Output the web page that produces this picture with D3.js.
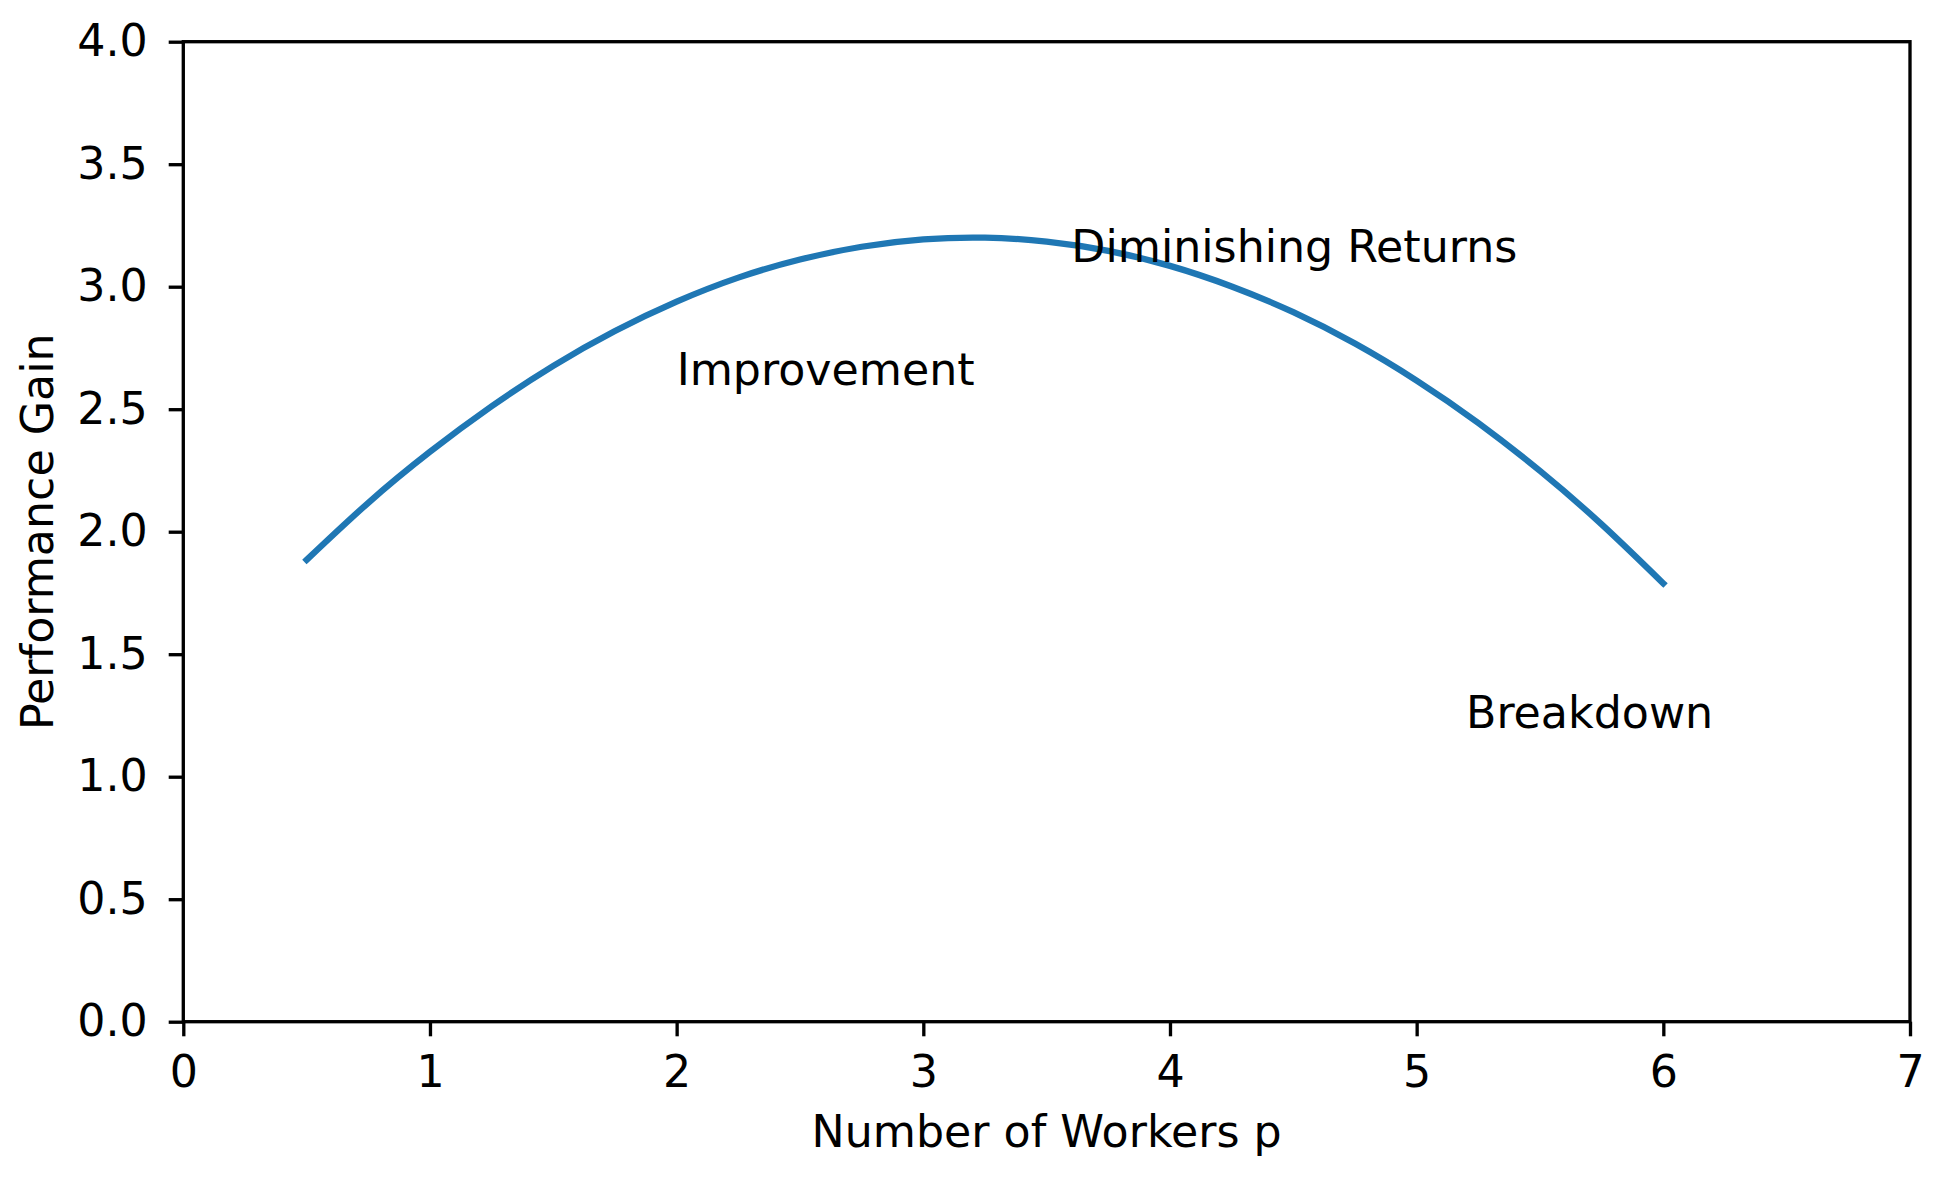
<!DOCTYPE html>
<html>
<head>
<meta charset="utf-8">
<script src="https://cdn.jsdelivr.net/npm/d3@7"></script>
<style>
    body { margin: 0; background: #fff; }
    svg text { font-family: "DejaVu Sans", sans-serif; }
</style>
</head>
<body>
<div id="chart"></div>
<script>
// Values
const workers = [0.5, 0.75, 1.0, 1.25, 1.5, 1.75, 2.0, 2.25, 2.5, 2.75, 3.0, 3.25,
                 3.5, 3.75, 4.0, 4.25, 4.5, 4.75, 5.0, 5.25, 5.5, 5.75, 6.0];
const gain = [1.885, 2.118, 2.326, 2.512, 2.677, 2.819, 2.939, 3.037, 3.111, 3.163, 3.193, 3.2,
              3.184, 3.146, 3.085, 3.001, 2.896, 2.768, 2.617, 2.444, 2.248, 2.03, 1.789];

const xTicks = [0, 1, 2, 3, 4, 5, 6, 7];
const yTicks = [0, 0.5, 1.0, 1.5, 2.0, 2.5, 3.0, 3.5, 4.0];

// Region labels (x, y in data units)
const labelText = ["Improvement", "Diminishing Returns", "Breakdown"];
const labelX = [2, 3.6, 5.2];
const labelY = [2.6, 3.1, 1.2];

const data = workers.map((w, i) => ({ p: w, g: gain[i] }));

// Dimensions and margins
const margin = { top: 41.7, right: 35, bottom: 164.3, left: 183.3 },
      width = 1945 - margin.left - margin.right,
      height = 1186 - margin.top - margin.bottom;

const fontSize = 44.3;
const tickLen = 14.6;
const spineW = 3.33;

const svg = d3.select("#chart")
    .append("svg")
    .attr("width", width + margin.left + margin.right)
    .attr("height", height + margin.top + margin.bottom)
    .append("g")
    .attr("transform", `translate(${margin.left},${margin.top})`);

// Scales
const x = d3.scaleLinear().domain([0, 7]).range([0, width]);
const y = d3.scaleLinear().domain([0, 4]).range([height, 0]);

// x-axis
const xAxis = svg.append("g")
    .attr("transform", `translate(0,${height})`)
    .call(d3.axisBottom(x).tickValues(xTicks).tickFormat(d3.format("d"))
        .tickSize(tickLen).tickPadding(19).tickSizeOuter(0));

// y-axis
const yAxis = svg.append("g")
    .call(d3.axisLeft(y).tickValues(yTicks).tickFormat(d3.format(".1f"))
        .tickSize(tickLen).tickPadding(21).tickSizeOuter(0));

[xAxis, yAxis].forEach(ax => {
    ax.select(".domain").remove();
    ax.selectAll(".tick line").attr("stroke", "#000").attr("stroke-width", spineW);
    ax.selectAll(".tick text")
        .attr("fill", "#000")
        .style("font-size", fontSize + "px");
});

// Frame (spines)
svg.append("rect")
    .attr("x", 0)
    .attr("y", 0)
    .attr("width", width)
    .attr("height", height)
    .attr("fill", "none")
    .attr("stroke", "#000")
    .attr("stroke-width", spineW)
    .attr("stroke-linejoin", "miter");

// Curve
const line = d3.line()
    .x(d => x(d.p))
    .y(d => y(d.g))
    .curve(d3.curveNatural);

svg.append("path")
    .datum(data)
    .attr("fill", "none")
    .attr("stroke", "#1f77b4")
    .attr("stroke-width", 6.25)
    .attr("stroke-linecap", "square")
    .attr("d", line);

// Region labels
labelText.forEach((t, i) => {
    svg.append("text")
        .attr("x", x(labelX[i]))
        .attr("y", y(labelY[i]))
        .attr("text-anchor", "start")
        .style("font-size", fontSize + "px")
        .text(t);
});

// x-axis label
svg.append("text")
    .attr("x", width / 2)
    .attr("y", 1147.3 - margin.top)
    .attr("text-anchor", "middle")
    .style("font-size", fontSize + "px")
    .text("Number of Workers p");

// y-axis label
svg.append("text")
    .attr("transform", "rotate(-90)")
    .attr("x", -height / 2)
    .attr("y", 53.3 - margin.left)
    .attr("text-anchor", "middle")
    .style("font-size", fontSize + "px")
    .text("Performance Gain");
</script>
</body>
</html>
